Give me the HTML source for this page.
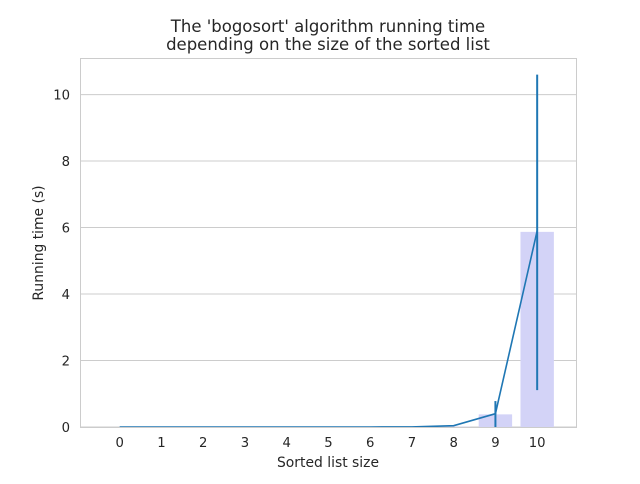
<!DOCTYPE html>
<html><head><meta charset="utf-8"><style>
body{margin:0;background:#fff;font-family:"DejaVu Sans","Liberation Sans",sans-serif;}
svg text{font-family:"DejaVu Sans","Liberation Sans",sans-serif;fill:#262626;}
</style></head><body>
<svg id="chart" width="640" height="480">
<text x="328" y="32" font-size="16.5" text-anchor="middle">The 'bogosort' algorithm running time</text>
<text x="328" y="50" font-size="16.5" text-anchor="middle">depending on the size of the sorted list</text>
<g id="grid"></g><g id="bars"></g><g id="line"></g><g id="err"></g><g id="ticks"></g>
<rect x="80.5" y="58.5" width="496" height="369" fill="none" stroke="#cccccc" stroke-width="1"/>
<text x="328" y="467" font-size="13.9" text-anchor="middle">Sorted list size</text>
<text transform="translate(43,243) rotate(-90)" font-size="13.9" text-anchor="middle">Running time (s)</text>
</svg>
<script>
const categories=[0,1,2,3,4,5,6,7,8,9,10];
const barValues=[0,0,0,0,0,0,0,0,0.01,0.38,5.87];
const lineValues=[0,0,0,0,0,0,0,0.003,0.04,0.40,5.9];
const errLow=[null,null,null,null,null,null,null,null,null,0,1.11];
const errHigh=[null,null,null,null,null,null,null,null,null,0.78,10.6];
const yTicks=[0,2,4,6,8,10];
const NS="http://www.w3.org/2000/svg";
const L=80,R=576,T=58,B=427;
const xmin=-0.95,xmax=10.93,ymin=0,ymax=11.1;
const xs=v=>L+(v-xmin)/(xmax-xmin)*(R-L);
const ys=v=>B-(v-ymin)/(ymax-ymin)*(B-T);
function mk(tag,attrs,parent){const e=document.createElementNS(NS,tag);for(const k in attrs)e.setAttribute(k,attrs[k]);document.getElementById(parent).appendChild(e);return e;}
yTicks.forEach(v=>{
 const g=mk('line',{x1:L,x2:R,y1:ys(v),y2:ys(v),stroke:'#cccccc','stroke-width':1},'grid');
 
 
 const t=mk('text',{x:L-10,y:ys(v)+5,'font-size':13.2,'text-anchor':'end'},'ticks');
 t.textContent=v;
 
 
});
const bw=0.8*(R-L)/(xmax-xmin);
categories.forEach((c,i)=>{
 const b=mk('rect',{x:xs(c)-bw/2,y:ys(barValues[i]),width:bw,height:B-ys(barValues[i]),fill:'#d3d3f7'},'bars');
 
 
 const t=mk('text',{x:xs(c),y:B+20,'font-size':13.2,'text-anchor':'middle'},'ticks');
 t.textContent=c;
 
 
 if(errLow[i]!==null){
  const e=mk('line',{x1:xs(c),x2:xs(c),y1:ys(errLow[i]),y2:ys(errHigh[i]),stroke:'#1f77b4','stroke-width':2},'err');
  
  
 }
});
const p=mk('polyline',{points:categories.map((c,i)=>xs(c)+','+ys(lineValues[i])).join(' '),fill:'none',stroke:'#1f77b4','stroke-width':1.6},'line');


</script>
</body></html>
